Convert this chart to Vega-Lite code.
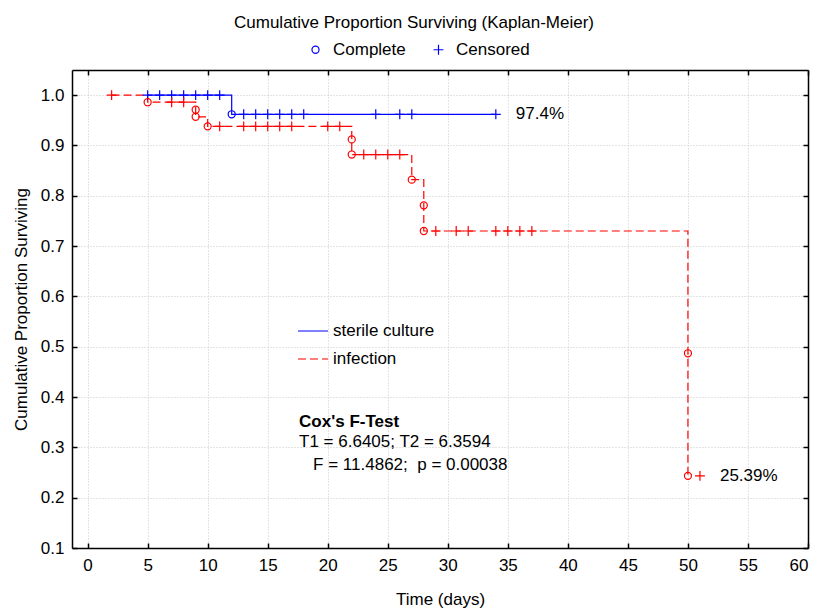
{
  "$schema": "https://vega.github.io/schema/vega-lite/v6.json",
  "width": 736,
  "height": 478,
  "autosize": {"type": "none"},
  "padding": {"left": 72, "top": 70, "right": 9, "bottom": 60},
  "background": "white",
  "title": {
    "text": "Cumulative Proportion Surviving (Kaplan-Meier)",
    "fontSize": 17,
    "fontWeight": "normal",
    "font": "Liberation Sans",
    "color": "#000000",
    "anchor": "middle",
    "frame": "group",
    "dx": -26,
    "offset": 9
  },
  "datasets": {
    "curve": [
      {"group": "sterile culture", "t": 5, "s": 1.0, "i": 1},
      {"group": "sterile culture", "t": 12, "s": 0.962, "i": 2},
      {"group": "sterile culture", "t": 34, "s": 0.962, "i": 3},
      {"group": "infection", "t": 2, "s": 1.0, "i": 1},
      {"group": "infection", "t": 5, "s": 0.986, "i": 2},
      {"group": "infection", "t": 9, "s": 0.971, "i": 3},
      {"group": "infection", "t": 9, "s": 0.957, "i": 4},
      {"group": "infection", "t": 10, "s": 0.938, "i": 5},
      {"group": "infection", "t": 22, "s": 0.912, "i": 6},
      {"group": "infection", "t": 22, "s": 0.882, "i": 7},
      {"group": "infection", "t": 27, "s": 0.832, "i": 8},
      {"group": "infection", "t": 28, "s": 0.781, "i": 9},
      {"group": "infection", "t": 28, "s": 0.730, "i": 10},
      {"group": "infection", "t": 50, "s": 0.487, "i": 11},
      {"group": "infection", "t": 50, "s": 0.2434, "i": 12}
    ],
    "events": [
      {"group": "sterile culture", "status": "Censored", "t": 5, "s": 1.0},
      {"group": "sterile culture", "status": "Censored", "t": 6, "s": 1.0},
      {"group": "sterile culture", "status": "Censored", "t": 7, "s": 1.0},
      {"group": "sterile culture", "status": "Censored", "t": 8, "s": 1.0},
      {"group": "sterile culture", "status": "Censored", "t": 9, "s": 1.0},
      {"group": "sterile culture", "status": "Censored", "t": 10, "s": 1.0},
      {"group": "sterile culture", "status": "Censored", "t": 11, "s": 1.0},
      {"group": "sterile culture", "status": "Complete", "t": 12, "s": 0.962},
      {"group": "sterile culture", "status": "Censored", "t": 13, "s": 0.962},
      {"group": "sterile culture", "status": "Censored", "t": 14, "s": 0.962},
      {"group": "sterile culture", "status": "Censored", "t": 15, "s": 0.962},
      {"group": "sterile culture", "status": "Censored", "t": 16, "s": 0.962},
      {"group": "sterile culture", "status": "Censored", "t": 17, "s": 0.962},
      {"group": "sterile culture", "status": "Censored", "t": 18, "s": 0.962},
      {"group": "sterile culture", "status": "Censored", "t": 24, "s": 0.962},
      {"group": "sterile culture", "status": "Censored", "t": 26, "s": 0.962},
      {"group": "sterile culture", "status": "Censored", "t": 27, "s": 0.962},
      {"group": "sterile culture", "status": "Censored", "t": 34, "s": 0.962},
      {"group": "infection", "status": "Censored", "t": 2, "s": 1.0},
      {"group": "infection", "status": "Complete", "t": 5, "s": 0.986},
      {"group": "infection", "status": "Censored", "t": 7, "s": 0.986},
      {"group": "infection", "status": "Censored", "t": 8, "s": 0.986},
      {"group": "infection", "status": "Complete", "t": 9, "s": 0.971},
      {"group": "infection", "status": "Complete", "t": 9, "s": 0.957},
      {"group": "infection", "status": "Complete", "t": 10, "s": 0.938},
      {"group": "infection", "status": "Censored", "t": 11, "s": 0.938},
      {"group": "infection", "status": "Censored", "t": 13, "s": 0.938},
      {"group": "infection", "status": "Censored", "t": 14, "s": 0.938},
      {"group": "infection", "status": "Censored", "t": 15, "s": 0.938},
      {"group": "infection", "status": "Censored", "t": 16, "s": 0.938},
      {"group": "infection", "status": "Censored", "t": 17, "s": 0.938},
      {"group": "infection", "status": "Censored", "t": 20, "s": 0.938},
      {"group": "infection", "status": "Censored", "t": 21, "s": 0.938},
      {"group": "infection", "status": "Complete", "t": 22, "s": 0.912},
      {"group": "infection", "status": "Complete", "t": 22, "s": 0.882},
      {"group": "infection", "status": "Censored", "t": 23, "s": 0.882},
      {"group": "infection", "status": "Censored", "t": 24, "s": 0.882},
      {"group": "infection", "status": "Censored", "t": 25, "s": 0.882},
      {"group": "infection", "status": "Censored", "t": 26, "s": 0.882},
      {"group": "infection", "status": "Complete", "t": 27, "s": 0.832},
      {"group": "infection", "status": "Complete", "t": 28, "s": 0.781},
      {"group": "infection", "status": "Complete", "t": 28, "s": 0.730},
      {"group": "infection", "status": "Censored", "t": 29, "s": 0.730},
      {"group": "infection", "status": "Censored", "t": 30.7, "s": 0.730},
      {"group": "infection", "status": "Censored", "t": 31.7, "s": 0.730},
      {"group": "infection", "status": "Censored", "t": 34, "s": 0.730},
      {"group": "infection", "status": "Censored", "t": 35, "s": 0.730},
      {"group": "infection", "status": "Censored", "t": 36, "s": 0.730},
      {"group": "infection", "status": "Censored", "t": 37, "s": 0.730},
      {"group": "infection", "status": "Complete", "t": 50, "s": 0.487},
      {"group": "infection", "status": "Complete", "t": 50, "s": 0.2434},
      {"group": "infection", "status": "Censored", "t": 51, "s": 0.2434}
    ],
    "endlabels": [
      {"group": "sterile culture", "t": 34, "s": 0.962, "label": "97.4%"},
      {"group": "infection", "t": 51, "s": 0.2434, "label": "25.39%"}
    ]
  },
  "config": {
    "font": "Liberation Sans",
    "view": {"stroke": null},
    "axis": {
      "labelFont": "Liberation Sans",
      "titleFont": "Liberation Sans",
      "labelFontSize": 17,
      "titleFontSize": 17,
      "labelColor": "#000000",
      "titleColor": "#000000",
      "titleFontWeight": "normal",
      "domainColor": "#000000",
      "domainWidth": 1.5,
      "tickColor": "#000000",
      "tickWidth": 1.5,
      "tickSize": -5,
      "gridColor": "#c8c8c8",
      "gridDash": [1, 2],
      "gridWidth": 1
    },
    "legend": {
      "labelFont": "Liberation Sans",
      "labelFontSize": 17,
      "labelColor": "#000000"
    }
  },
  "resolve": {"axis": {"x": "independent", "y": "independent"}},
  "layer": [
    {
      "data": {"name": "curve"},
      "mark": {"type": "line", "interpolate": "step-after", "strokeWidth": 1.2},
      "encoding": {
        "x": {
          "field": "t", "type": "quantitative",
          "scale": {"domain": [-1.3, 60], "nice": false, "zero": false},
          "axis": {
            "orient": "bottom",
            "values": [0, 5, 10, 15, 20, 25, 30, 35, 40, 45, 50, 55, 60],
            "title": "Time (days)",
            "grid": true,
            "labelPadding": 14.5,
            "titlePadding": 18
          }
        },
        "y": {
          "field": "s", "type": "quantitative",
          "scale": {"domain": [0.1, 1.05], "nice": false, "zero": false},
          "axis": {
            "orient": "left",
            "values": [0.1, 0.2, 0.3, 0.4, 0.5, 0.6, 0.7, 0.8, 0.9, 1.0],
            "format": ".1f",
            "title": "Cumulative Proportion Surviving",
            "grid": true,
            "labelPadding": 13,
            "titlePadding": 10
          }
        },
        "stroke": {
          "field": "group", "type": "nominal",
          "scale": {"domain": ["sterile culture", "infection"], "range": ["#0000ff", "#ff0000"]},
          "legend": {
            "orient": "none", "legendX": 225, "legendY": 245, "title": null,
            "symbolType": "stroke", "symbolSize": 900, "symbolStrokeWidth": 1.2,
            "labelOffset": 4, "rowPadding": 4
          }
        },
        "strokeDash": {
          "field": "group", "type": "nominal",
          "scale": {"domain": ["sterile culture", "infection"], "range": [[1, 0], [8, 4]]},
          "legend": {
            "orient": "none", "legendX": 225, "legendY": 245, "title": null,
            "symbolType": "stroke", "symbolSize": 900, "symbolStrokeWidth": 1.2,
            "labelOffset": 4, "rowPadding": 4
          }
        },
        "order": {"field": "i", "type": "quantitative"}
      }
    },
    {
      "data": {"name": "events"},
      "mark": {"type": "point", "filled": false, "strokeWidth": 1.2, "opacity": 1, "size": 50},
      "encoding": {
        "x": {"field": "t", "type": "quantitative", "axis": null},
        "y": {"field": "s", "type": "quantitative", "axis": null},
        "color": {
          "field": "group", "type": "nominal",
          "scale": {"domain": ["sterile culture", "infection"], "range": ["#0000ff", "#ff0000"]},
          "legend": null
        },
        "shape": {
          "field": "status", "type": "nominal",
          "scale": {"domain": ["Complete", "Censored"], "range": ["circle", "M-1.4,0H1.4M0,-1.4V1.4"]},
          "legend": {
            "orient": "none", "legendX": 235, "legendY": -29, "direction": "horizontal",
            "title": null, "symbolStrokeColor": "#0000ff", "symbolFillColor": "transparent",
            "symbolSize": 50, "symbolStrokeWidth": 1.2, "labelOffset": 9, "columnPadding": 24
          }
        }
      }
    },
    {
      "data": {"name": "endlabels"},
      "mark": {"type": "text", "align": "left", "baseline": "middle", "dx": 20, "fontSize": 17, "color": "#000000"},
      "encoding": {
        "x": {"field": "t", "type": "quantitative", "axis": null},
        "y": {"field": "s", "type": "quantitative", "axis": null},
        "text": {"field": "label"}
      }
    },
    {
      "data": {"values": [{"label": "Cox's F-Test"}]},
      "mark": {"type": "text", "align": "left", "baseline": "middle", "fontSize": 17, "fontWeight": "bold", "color": "#000000"},
      "encoding": {
        "x": {
          "datum": 17.61, "type": "quantitative",
          "axis": {"orient": "top", "values": [0, 5, 10, 15, 20, 25, 30, 35, 40, 45, 50, 55, 60], "labels": false, "title": null, "grid": false}
        },
        "y": {
          "datum": 0.35, "type": "quantitative",
          "axis": {"orient": "right", "values": [0.1, 0.2, 0.3, 0.4, 0.5, 0.6, 0.7, 0.8, 0.9, 1.0], "labels": false, "title": null, "grid": false}
        },
        "text": {"field": "label"}
      }
    },
    {
      "data": {"values": [{"label": "T1 = 6.6405; T2 = 6.3594"}]},
      "mark": {"type": "text", "align": "left", "baseline": "middle", "fontSize": 17, "color": "#000000"},
      "encoding": {
        "x": {"datum": 17.61, "type": "quantitative", "axis": null},
        "y": {"datum": 0.31, "type": "quantitative", "axis": null},
        "text": {"field": "label"}
      }
    },
    {
      "data": {"values": [{"label": "F = 11.4862;\u00a0 p = 0.00038"}]},
      "mark": {"type": "text", "align": "left", "baseline": "middle", "fontSize": 17, "color": "#000000"},
      "encoding": {
        "x": {"datum": 18.78, "type": "quantitative", "axis": null},
        "y": {"datum": 0.2644, "type": "quantitative", "axis": null},
        "text": {"field": "label"}
      }
    }
  ]
}
